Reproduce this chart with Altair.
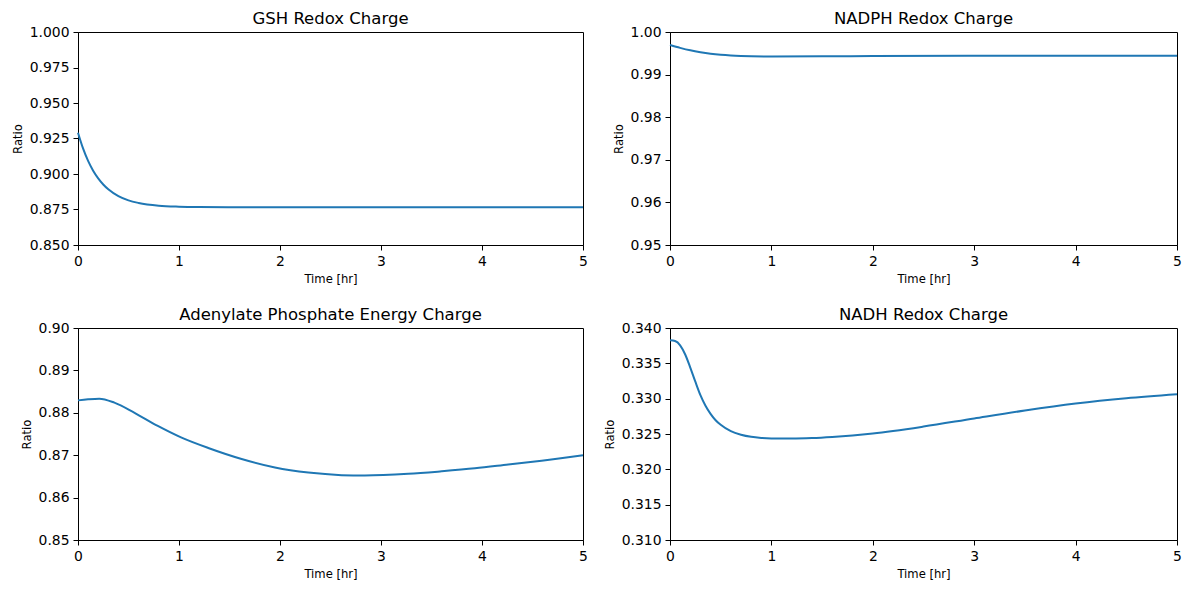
import altair as alt
import pandas as pd

FONT = "DejaVu Sans"
LINE_COLOR = "#1f77b4"

# GSH redox charge
gsh_t = [0, 0.05, 0.1, 0.15, 0.2, 0.25, 0.3, 0.4, 0.5, 0.6, 0.8, 1.0, 1.2, 1.5, 2, 3, 4, 5]
gsh_v = [0.9291, 0.9180, 0.9092, 0.9023, 0.8969, 0.8926, 0.8892, 0.8844, 0.8814,
         0.8796, 0.8777, 0.8770, 0.87672, 0.8766, 0.87655, 0.87655, 0.87655, 0.87655]

# NADPH redox charge
nadph_t = [0, 0.1, 0.2, 0.3, 0.4, 0.5, 0.6, 0.7, 0.8, 1.0, 1.5, 2, 3, 4, 5]
nadph_v = [0.99695, 0.99628, 0.99570, 0.99525, 0.99490, 0.99465, 0.99448,
           0.99437, 0.99430, 0.99425, 0.99428, 0.99434, 0.99441, 0.99444, 0.99445]

# Adenylate phosphate energy charge
aden_t = [0, 0.1, 0.21, 0.36, 0.56, 0.79, 1.02, 1.29, 1.62, 1.95, 2.28, 2.61,
          2.84, 3.27, 3.6, 3.93, 4.26, 4.59, 5]
aden_v = [0.88293, 0.88318, 0.88333, 0.8824, 0.8800, 0.8769, 0.8742, 0.8717,
          0.8691, 0.8671, 0.8659, 0.8653, 0.8652, 0.8656, 0.8662, 0.8669,
          0.8678, 0.8687, 0.8700]

# NADH redox charge
nadh_t = [0, 0.05, 0.1, 0.15, 0.2, 0.25, 0.3, 0.35, 0.4, 0.45, 0.5, 0.6, 0.7,
          0.8, 0.9, 1.0, 1.2, 1.4, 1.6, 1.8, 2.0, 2.5, 3, 3.5, 4, 4.5, 5]
nadh_v = [0.33827, 0.33815, 0.33755, 0.33625, 0.33440, 0.33240, 0.33050,
          0.32900, 0.32785, 0.32695, 0.32630, 0.32540, 0.32490, 0.32460,
          0.32445, 0.32438, 0.32435, 0.32442, 0.32458, 0.32480, 0.32508,
          0.32605, 0.32720, 0.32832, 0.32930, 0.33005, 0.33061]

x_ticks = [0, 1, 2, 3, 4, 5]

panels = [
    ("GSH Redox Charge", gsh_t, gsh_v, [0.85, 1.0],
     [0.850, 0.875, 0.900, 0.925, 0.950, 0.975, 1.000], ".3f", 505, 213),
    ("NADPH Redox Charge", nadph_t, nadph_v, [0.95, 1.0],
     [0.95, 0.96, 0.97, 0.98, 0.99, 1.00], ".2f", 507, 213),
    ("Adenylate Phosphate Energy Charge", aden_t, aden_v, [0.85, 0.90],
     [0.85, 0.86, 0.87, 0.88, 0.89, 0.90], ".2f", 505, 212),
    ("NADH Redox Charge", nadh_t, nadh_v, [0.31, 0.34],
     [0.310, 0.315, 0.320, 0.325, 0.330, 0.335, 0.340], ".3f", 507, 212),
]


def panel(title, t, v, domain, ticks, fmt, width, height):
    df = pd.DataFrame({"Time": t, "Ratio": v})
    return alt.Chart(df).mark_line(
        color=LINE_COLOR, strokeWidth=2, interpolate="monotone"
    ).encode(
        x=alt.X("Time:Q", title="Time [hr]",
                scale=alt.Scale(domain=[0, 5], nice=False, zero=False),
                axis=alt.Axis(values=x_ticks, format="d", labelFlush=False)),
        y=alt.Y("Ratio:Q", title="Ratio",
                scale=alt.Scale(domain=domain, nice=False, zero=False),
                axis=alt.Axis(values=ticks, format=fmt, labelFlush=False)),
    ).properties(
        width=width, height=height,
        title=alt.TitleParams(title, fontSize=16.5, font=FONT,
                              fontWeight="normal", offset=-2, anchor="middle",
                              color="black"),
    )


charts = [panel(*p) for p in panels]

chart = alt.concat(
    *charts, columns=2, spacing={"row": 20, "column": 15}
).properties(
    padding={"left": 11, "top": 10, "right": 5, "bottom": 5},
    background="white",
).configure_view(
    stroke="black", strokeWidth=1
).configure_axis(
    grid=False, domain=True, domainColor="black", domainWidth=1,
    tickColor="black", tickSize=5, tickWidth=1,
    labelFont=FONT, labelFontSize=13.9, labelColor="black", labelPadding=4,
    titleFont=FONT, titleFontSize=11.6, titleFontWeight="normal",
    titleColor="black", titlePadding=6,
)

chart.save("out.html", embed_options={"renderer": "svg", "actions": False})
